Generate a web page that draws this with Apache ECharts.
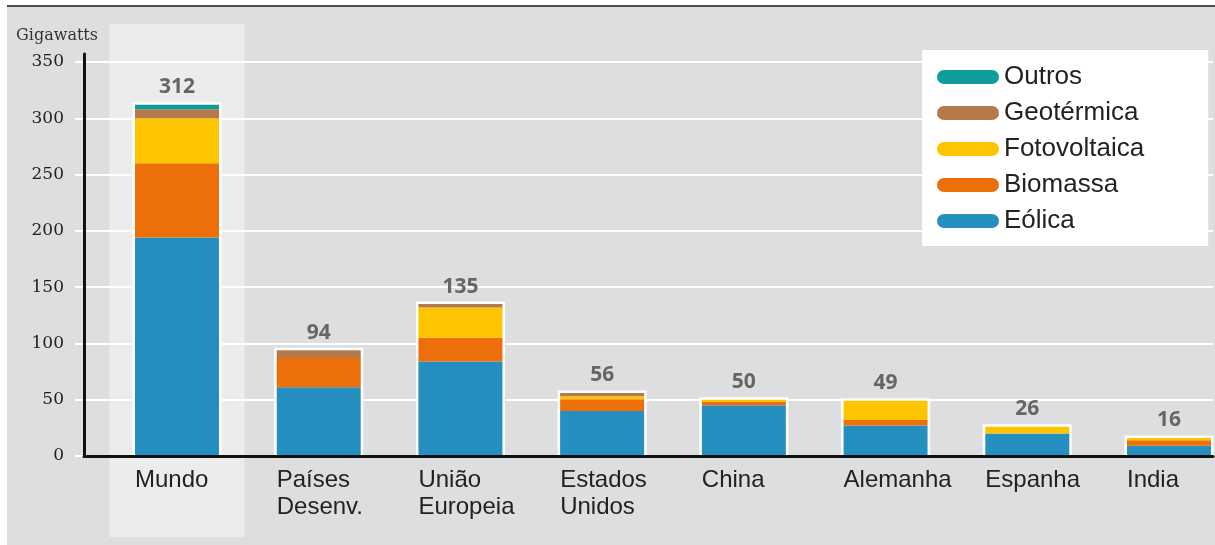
<!DOCTYPE html>
<html>
<head>
<meta charset="utf-8">
<script src="https://cdn.jsdelivr.net/npm/echarts@6/dist/echarts.min.js"></script>
<style>
  html, body { margin: 0; padding: 0; background: #ffffff; }
  #panel { position: absolute; left: 7px; top: 5px; right: 0; bottom: 0;
           background: #dddee0; border-top: 2px solid #4f4f4f; }
  #chart { position: absolute; left: 0; top: 0; width: 1215px; height: 545px; }
</style>
</head>
<body>
<div id="panel"></div>
<div id="chart"></div>
<script>
// Renewable power capacity (excluding hydro), in gigawatts
const categories = ['Mundo', 'Países\nDesenv.', 'União\nEuropeia', 'Estados\nUnidos', 'China', 'Alemanha', 'Espanha', 'India'];
const eolica       = [194, 61, 84, 40,   45, 27, 20, 9];
const biomassa     = [66,  26, 21, 10.5, 3,  5,  0,  5];
const fotovoltaica = [40,  0,  27, 2.5,  2,  17, 6,  2];
const geotermica   = [8,   7,  3,  3,    0,  0,  0,  0];
const outros       = [4,   0,  0,  0,    0,  0,  0,  0];
const yTicks = [0, 50, 100, 150, 200, 250, 300, 350];

const totals = categories.map((_, i) =>
  eolica[i] + biomassa[i] + fotovoltaica[i] + geotermica[i] + outros[i]);

const colors = {
  'Eólica': '#2590c0',
  'Biomassa': '#ec6f0a',
  'Fotovoltaica': '#fdc500',
  'Geotérmica': '#b57a4c',
  'Outros': '#0e9d9b'
};

const BAR_W = 84;

const stackSeries = [
  ['Eólica', eolica],
  ['Biomassa', biomassa],
  ['Fotovoltaica', fotovoltaica],
  ['Geotérmica', geotermica],
  ['Outros', outros]
].map(([name, data]) => ({
  name, type: 'bar', stack: 'total', data,
  xAxisIndex: 0, yAxisIndex: 0,
  barWidth: BAR_W, z: 3,
  itemStyle: { color: colors[name] }
}));

const pill = 'path://M7,0 H55 A7,7 0 0 1 55,14 H7 A7,7 0 0 1 7,0 Z';

const chart = echarts.init(document.getElementById('chart'), null, { renderer: 'canvas' });

chart.setOption({
  backgroundColor: 'transparent',
  animation: false,
  title: {
    text: 'Gigawatts', left: 11, top: 23,
    textStyle: { fontFamily: 'DejaVu Serif', fontSize: 16, fontWeight: 'normal', color: '#333' }
  },
  legend: {
    orient: 'vertical', left: 922, top: 50,
    padding: [14, 64, 12, 15],
    backgroundColor: '#ffffff',
    itemWidth: 62, itemHeight: 14, itemGap: 10, itemTextGap: 7,
    data: ['Outros', 'Geotérmica', 'Fotovoltaica', 'Biomassa', 'Eólica'].map(n => ({ name: n, icon: pill })),
    textStyle: { fontFamily: 'Liberation Sans', fontSize: 26, color: '#222' }
  },
  grid: [
    { left: 177, right: 46, top: 62, bottom: 89 },  // bars
    { left: 84, right: 2, top: 62, bottom: 89 },    // value frame
    { left: 84, right: 2, top: 54, bottom: 89 }     // vertical axis line
  ],
  xAxis: [
    {
      gridIndex: 0, type: 'category', data: categories, boundaryGap: false,
      axisLine: { show: false }, axisTick: { show: false }, splitLine: { show: false },
      axisLabel: {
        margin: 11, width: BAR_W, overflow: 'none', align: 'center',
        formatter: v => v.split('\n').map(s => '{l|' + s + '}').join('\n'),
        rich: { l: { align: 'left', fontFamily: 'Liberation Sans', fontSize: 24, color: '#222', lineHeight: 27 } }
      }
    },
    { gridIndex: 0, type: 'category', data: categories, boundaryGap: false, show: false, position: 'top' },
    {
      gridIndex: 1, type: 'value', min: 0, max: 1, z: 5,
      axisLine: { show: true, lineStyle: { color: '#111', width: 3 } },
      axisTick: { show: false }, axisLabel: { show: false }, splitLine: { show: false }
    },
    { gridIndex: 2, type: 'value', min: 0, max: 1, show: false }
  ],
  yAxis: [
    { gridIndex: 0, type: 'value', min: 0, max: 350, show: false },
    {
      gridIndex: 1, type: 'value', min: yTicks[0], max: yTicks[yTicks.length - 1], interval: 50,
      axisLine: { show: false },
      axisTick: { show: true, length: 9, lineStyle: { color: '#ffffff', width: 2 } },
      splitLine: { show: true, lineStyle: { color: '#ffffff', width: 2 } },
      axisLabel: { margin: 20, fontFamily: 'DejaVu Serif', fontSize: 17, color: '#222' }
    },
    {
      gridIndex: 2, type: 'value', min: 0, max: 1, z: 5,
      axisLine: { show: true, lineStyle: { color: '#111', width: 3 } },
      axisTick: { show: false }, axisLabel: { show: false }, splitLine: { show: false }
    }
  ],
  series: [
    {
      // white frame around each stacked column
      name: 'frame', type: 'custom', data: totals.map((t, i) => [i, t]),
      xAxisIndex: 0, yAxisIndex: 0, z: 2, silent: true,
      renderItem: (params, api) => {
        const top = api.coord([api.value(0), api.value(1)]);
        const base = api.coord([api.value(0), 0]);
        const pad = 2.5;
        return {
          type: 'rect',
          shape: { x: top[0] - BAR_W / 2 - pad, y: top[1] - pad, width: BAR_W + 2 * pad, height: base[1] - top[1] + pad },
          style: { fill: '#ffffff' }
        };
      }
    },
    {
      // column totals shown above each stack
      name: 'total', type: 'bar', data: totals,
      xAxisIndex: 1, yAxisIndex: 0, barWidth: BAR_W, z: 4,
      itemStyle: { color: 'rgba(0,0,0,0)' },
      label: {
        show: true, position: 'top', distance: 7,
        fontFamily: 'Open Sans', fontWeight: 'bold', fontSize: 21, color: '#666',
        formatter: p => String(Math.round(p.value))
      },
      tooltip: { show: false }
    },
    ...stackSeries
  ]
});

// light panel behind the world column
const cx = chart.convertToPixel({ xAxisIndex: 0 }, 'Mundo');
chart.setOption({
  graphic: [{
    type: 'rect', z: -10, silent: true,
    shape: { x: cx - 67.5, y: 24, width: 135, height: 513 },
    style: { fill: '#ececec' }
  }]
});
</script>
</body>
</html>
